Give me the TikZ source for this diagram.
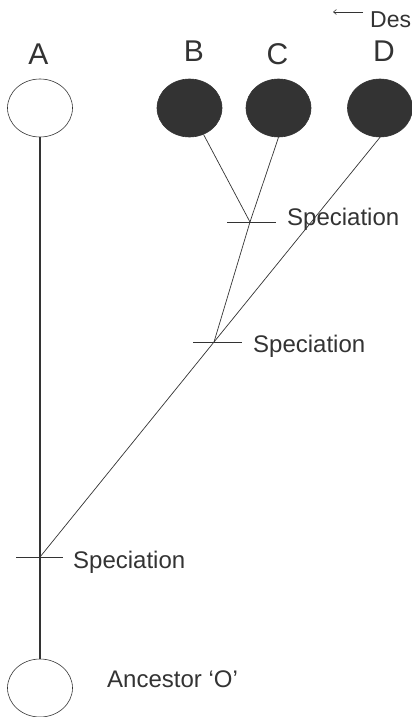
\documentclass[tikz,border=0pt]{standalone}
\usepackage{fontspec}
\setmainfont{Liberation Sans}
\usetikzlibrary{shapes.geometric,arrows.meta}
\definecolor{ink}{HTML}{333333}
\begin{document}
\begin{tikzpicture}[x=1pt,y=-1pt,
  taxon/.style={ellipse, draw=ink, line width=0.6pt, minimum width=65pt, minimum height=58pt, inner sep=0pt},
  extant/.style={taxon, fill=ink},
  lbl/.style={text=ink, font=\fontsize{30}{30}\selectfont, anchor=base, inner sep=0pt},
  spec/.style={text=ink, font=\fontsize{24}{24}\selectfont, anchor=base west, inner sep=0pt},
  branch/.style={draw=ink, line width=0.7pt},
  stem/.style={draw=ink, line width=1.8pt}]
\useasboundingbox (0,0) rectangle (412,717);
% taxa
\node[taxon]  (A) at (40,108) {};
\node[extant] (B) at (189.5,108) {};
\node[extant] (C) at (278.5,108) {};
\node[extant] (D) at (380,108) {};
\node[taxon]  (O) at (40,688) {};
% letters
\node[lbl] (lA) at (38.5,64) {A};
\node[lbl] (lB) at (194,62) {B};
\node[lbl] (lC) at (277.5,65) {C};
\node[lbl] (lD) at (384,62) {D};
% junctions
\coordinate (j1) at (250,222);
\coordinate (j2) at (214,342);
\coordinate (j3) at (40,557);
% branches
\draw[stem] (A.south) -- (O.north);
\draw[branch] (B) -- (j1);
\draw[branch] (C.south) -- (j1) -- (j2);
\draw[branch] (D.south) -- (j2) -- (j3);
% speciation ticks
\draw[branch] ([xshift=-23pt]j1) -- ([xshift=26pt]j1);
\draw[branch] ([xshift=-21pt]j2) -- ([xshift=28pt]j2);
\draw[branch] ([xshift=-24pt]j3) -- ([xshift=23pt]j3);
% labels
\node[spec] (s1) at (287,225) {Speciation};
\node[spec] (s2) at (253,352.5) {Speciation};
\node[spec] (s3) at (73,568) {Speciation};
\node[spec] (anc) at (107,687) {Ancestor ‘O’};
% descendants marker
\node[text=ink, font=\fontsize{23}{23}\selectfont, anchor=base west, inner sep=0pt] (des) at (370,28) {Des};
\coordinate (ar1) at (363,12);
\coordinate (ar2) at (333,12);
\draw[draw=ink, line width=0.6pt, -{Straight Barb[length=3pt,width=5pt]}] (ar1) -- (ar2);
\end{tikzpicture}
\end{document}
